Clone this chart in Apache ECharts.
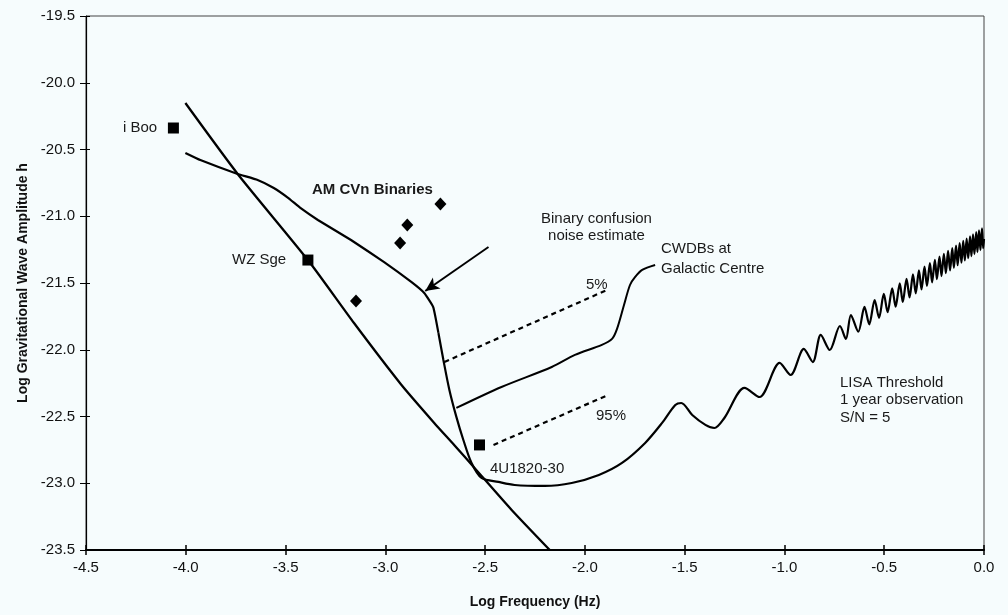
<!DOCTYPE html>
<html lang="en">
<head>
<meta charset="UTF-8">
<title>LISA threshold</title>
<script src="https://cdn.jsdelivr.net/npm/echarts@6/dist/echarts.min.js"></script>
<style>
  html, body { margin: 0; padding: 0; background: #f6fcfd; }
  #main { width: 1008px; height: 615px; }
</style>
</head>
<body>
<div id="main"></div>
<script>
// axis ranges
var xTicks = [-4.5, 0.0];
var yTicks = [-23.5, -19.5];

// steep straight-ish curve
var steepLine = [
  [-4.002, -20.152], [-3.740, -20.683], [-3.388, -21.328], [-3.157, -21.800],
  [-2.921, -22.260], [-2.755, -22.548], [-2.654, -22.715], [-2.553, -22.885],
  [-2.367, -23.200], [-2.176, -23.500]
];

// binary confusion noise part (down to the corner and the steep drop)
var lisaLow = [
  [-4.002, -20.526], [-3.927, -20.579], [-3.740, -20.683], [-3.640, -20.728],
  [-3.559, -20.788], [-3.489, -20.860], [-3.424, -20.940], [-3.338, -21.028],
  [-3.172, -21.178], [-3.006, -21.343], [-2.870, -21.492], [-2.805, -21.575],
  [-2.760, -21.680], [-2.734, -21.874]
];
// LISA threshold part (steep drop, bowl, oscillations)
var lisaHigh = [
  [-2.734, -21.874], [-2.709, -22.077], [-2.679, -22.301],
  [-2.644, -22.503], [-2.609, -22.676], [-2.568, -22.848], [-2.518, -22.960],
  [-2.433, -22.990], [-2.352, -23.013], [-2.201, -23.020], [-2.066, -22.998],
  [-1.930, -22.938], [-1.814, -22.848], [-1.698, -22.698], [-1.613, -22.548],
  [-1.547, -22.414], [-1.517, -22.399], [-1.462, -22.489], [-1.396, -22.563],
  [-1.351, -22.586], [-1.301, -22.511], [-1.200, -22.286], [-1.125, -22.354],
  [-1.024, -22.099], [-0.969, -22.189], [-0.903, -21.994], [-0.858, -22.092],
  [-0.818, -21.889], [-0.773, -22.002], [-0.722, -21.822], [-0.692, -21.919],
  [-0.667, -21.740], [-0.630, -21.865], [-0.599, -21.679], [-0.575, -21.810],
  [-0.548, -21.628], [-0.526, -21.761], [-0.502, -21.582], [-0.483, -21.718],
  [-0.460, -21.540], [-0.443, -21.678], [-0.422, -21.502], [-0.407, -21.642],
  [-0.388, -21.468], [-0.373, -21.608], [-0.356, -21.436], [-0.342, -21.577],
  [-0.326, -21.406], [-0.313, -21.548], [-0.298, -21.378], [-0.286, -21.521],
  [-0.271, -21.351], [-0.260, -21.495], [-0.246, -21.326], [-0.236, -21.471],
  [-0.223, -21.303], [-0.213, -21.448], [-0.201, -21.281], [-0.191, -21.426],
  [-0.180, -21.260], [-0.170, -21.405], [-0.159, -21.239], [-0.151, -21.386],
  [-0.140, -21.220], [-0.132, -21.367], [-0.122, -21.202], [-0.113, -21.348],
  [-0.104, -21.184], [-0.096, -21.331], [-0.087, -21.167], [-0.079, -21.314],
  [-0.070, -21.150], [-0.063, -21.298], [-0.055, -21.135], [-0.048, -21.283],
  [-0.039, -21.119], [-0.033, -21.268], [-0.025, -21.105], [-0.018, -21.253],
  [-0.010, -21.090], [-0.004, -21.239], [0.000, -21.170]
];

// CWDBs at Galactic Centre (median) and 5% / 95% bounds
var cwdbMedian = [
  [-2.644, -22.436], [-2.418, -22.279], [-2.166, -22.129], [-2.050, -22.039],
  [-1.915, -21.964], [-1.864, -21.919], [-1.839, -21.844], [-1.804, -21.665],
  [-1.774, -21.515], [-1.748, -21.455], [-1.713, -21.402], [-1.648, -21.365]
];
var cwdb5 = [[-2.704, -22.092], [-1.889, -21.552]];
var cwdb95 = [[-2.458, -22.713], [-1.884, -22.339]];

// individual sources
var squares = [[-4.062, -20.339], [-3.388, -21.328], [-2.528, -22.713]];
var amcvn = [[-2.724, -20.908], [-2.890, -21.065], [-2.926, -21.200], [-3.147, -21.635]];

var chart = echarts.init(document.getElementById('main'));
var font = '"Liberation Sans", Arial, Helvetica, sans-serif';
var txt = function (x, y, s, opt) {
  return {
    type: 'text', left: x, top: y,
    style: Object.assign({ text: s, font: '15px ' + font, fill: '#1a1a1a', lineHeight: 16 }, opt || {})
  };
};
var fmt = function (v) { return v.toFixed(1); };

var option = {
  backgroundColor: '#f6fcfd',
  animation: false,
  grid: { left: 86, right: 24, top: 16, bottom: 65, show: true, borderColor: '#444', borderWidth: 1 },
  xAxis: [{
    type: 'value', min: xTicks[0], max: xTicks[1], interval: 0.5,
    name: 'Log Frequency (Hz)', nameLocation: 'middle', nameGap: 45,
    nameTextStyle: { fontFamily: font, fontWeight: 'bold', fontSize: 14, color: '#111' },
    axisLine: { onZero: false, lineStyle: { color: '#000', width: 2 } },
    axisTick: { length: 5, lineStyle: { color: '#000', width: 1.5 } },
    axisLabel: { fontFamily: font, fontSize: 15, color: '#111', margin: 10, formatter: fmt },
    splitLine: { show: false }
  }, {
    type: 'value', min: xTicks[0], max: xTicks[1], interval: 0.5, position: 'bottom',
    axisLine: { show: false, onZero: false },
    axisTick: { inside: true, length: 5, lineStyle: { color: '#000', width: 1.5 } },
    axisLabel: { show: false }, splitLine: { show: false }
  }],
  yAxis: [{
    type: 'value', min: yTicks[0], max: yTicks[1], interval: 0.5, position: 'left',
    name: 'Log Gravitational Wave Amplitude h', nameLocation: 'middle', nameGap: 52,
    nameTextStyle: { fontFamily: font, fontWeight: 'bold', fontSize: 14, color: '#111' },
    axisLine: { show: true, onZero: false, lineStyle: { color: '#000', width: 1.2 } },
    axisTick: { show: true, length: 6, lineStyle: { color: '#000' } },
    axisLabel: { fontFamily: font, fontSize: 15, color: '#111', margin: 11, formatter: fmt },
    splitLine: { show: false }
  }, {
    type: 'value', min: yTicks[0], max: yTicks[1], interval: 0.5, position: 'left',
    axisLine: { show: false, onZero: false },
    axisTick: { show: true, inside: true, length: 4, lineStyle: { color: '#000' } },
    axisLabel: { show: false }, splitLine: { show: false }
  }],
  series: [
    { type: 'line', data: steepLine, smooth: 0.2, symbol: 'none', clip: true,
      lineStyle: { color: '#000', width: 2.3 } },
    { type: 'line', data: lisaLow, smooth: 0.12, symbol: 'none',
      lineStyle: { color: '#000', width: 2.2 },
      markLine: {
        silent: true, symbol: ['none', 'arrow'], symbolSize: [10, 14],
        label: { show: false },
        lineStyle: { color: '#000', width: 2, type: 'solid' },
        data: [[{ coord: [-2.483, -21.230] }, { coord: [-2.800, -21.560] }]]
      } },
    { type: 'line', data: lisaHigh, smooth: 0.3, symbol: 'none', clip: true,
      lineStyle: { color: '#000', width: 2.2 } },
    { type: 'line', data: cwdbMedian, smooth: 0.3, symbol: 'none',
      lineStyle: { color: '#000', width: 2 } },
    { type: 'line', data: cwdb5, symbol: 'none',
      lineStyle: { color: '#000', width: 2.2, type: [5, 4] } },
    { type: 'line', data: cwdb95, symbol: 'none',
      lineStyle: { color: '#000', width: 2.2, type: [5, 4] } },
    { type: 'scatter', data: squares, symbol: 'rect', symbolSize: 11,
      itemStyle: { color: '#000', opacity: 1 } },
    { type: 'scatter', data: amcvn, symbol: 'diamond', symbolSize: [12, 13],
      itemStyle: { color: '#000', opacity: 1 } }
  ],
  graphic: [
    txt(123, 120, 'i Boo'),
    txt(232, 252, 'WZ Sge'),
    txt(312, 182, 'AM CVn Binaries', { font: 'bold 15px ' + font }),
    txt(541, 210, 'Binary confusion\nnoise estimate', { textAlign: 'center', lineHeight: 17 }),
    txt(661, 239, 'CWDBs at\nGalactic Centre', { lineHeight: 20 }),
    txt(586, 277, '5%'),
    txt(596, 408, '95%'),
    txt(490, 461, '4U1820-30'),
    txt(840, 374, 'LISA Threshold\n1 year observation\nS/N = 5', { lineHeight: 17.5 })
  ]
};
chart.setOption(option);
</script>
</body>
</html>
